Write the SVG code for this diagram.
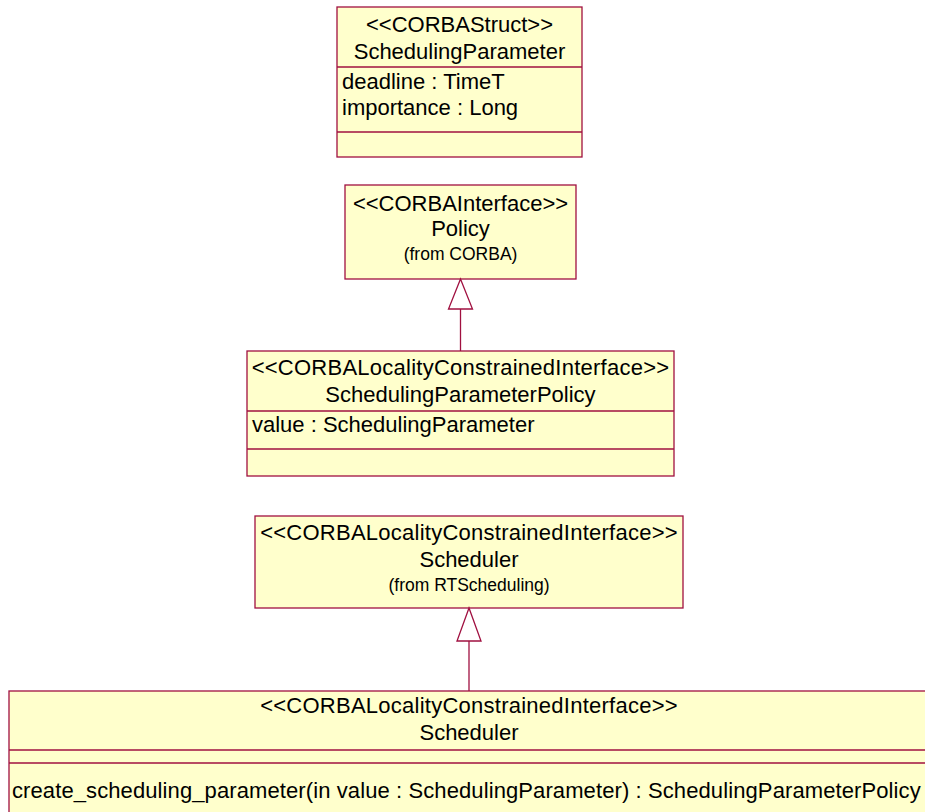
<svg xmlns="http://www.w3.org/2000/svg" width="925" height="812" viewBox="0 0 925 812">
<style>
.box{fill:#FFFFCC;stroke:#A01040;stroke-width:1.3}
.sep{stroke:#A01040;stroke-width:1.3;fill:none}
.conn{stroke:#A01040;stroke-width:1.3;fill:none}
.head{fill:#FFFFFF;stroke:#A01040;stroke-width:1.3}
text{font-family:"Liberation Sans",Arial,sans-serif;font-size:22px;fill:#000}
.c{text-anchor:middle}
.st{letter-spacing:0.25px}
.op{letter-spacing:0.1px}
.small{font-size:17.5px}
</style>
<rect width="925" height="812" fill="#FFFFFF"/>
<g id="SchedulingParameter">
<rect class="box" x="337" y="7" width="245" height="150"/>
<line class="sep" x1="337" y1="67" x2="582" y2="67"/>
<line class="sep" x1="337" y1="132" x2="582" y2="132"/>
<text class="c" x="459.5" y="32">&lt;&lt;CORBAStruct&gt;&gt;</text>
<text class="c" x="459.5" y="59">SchedulingParameter</text>
<text x="342" y="89">deadline : TimeT</text>
<text x="342" y="115">importance : Long</text>
</g>
<g id="Policy">
<rect class="box" x="345" y="185" width="231" height="94"/>
<text class="c" x="460.5" y="211">&lt;&lt;CORBAInterface&gt;&gt;</text>
<text class="c" x="460.5" y="236">Policy</text>
<text class="c small" x="460.5" y="260">(from CORBA)</text>
</g>
<g id="SchedulingParameterPolicy">
<rect class="box" x="247" y="351" width="427" height="125"/>
<line class="sep" x1="247" y1="411" x2="674" y2="411"/>
<line class="sep" x1="247" y1="449" x2="674" y2="449"/>
<text class="c st" x="460.5" y="375">&lt;&lt;CORBALocalityConstrainedInterface&gt;&gt;</text>
<text class="c" x="460.5" y="402">SchedulingParameterPolicy</text>
<text x="252" y="432">value : SchedulingParameter</text>
</g>
<g id="SchedulerBase">
<rect class="box" x="255" y="516" width="428" height="92"/>
<text class="c st" x="469" y="540">&lt;&lt;CORBALocalityConstrainedInterface&gt;&gt;</text>
<text class="c" x="469" y="567">Scheduler</text>
<text class="c small" x="469" y="591">(from RTScheduling)</text>
</g>
<g id="Scheduler">
<rect class="box" x="9" y="691" width="930" height="130"/>
<line class="sep" x1="9" y1="750" x2="939" y2="750"/>
<line class="sep" x1="9" y1="763" x2="939" y2="763"/>
<text class="c st" x="469" y="713">&lt;&lt;CORBALocalityConstrainedInterface&gt;&gt;</text>
<text class="c" x="469" y="740">Scheduler</text>
<text class="op" x="12" y="798">create_scheduling_parameter(in value : SchedulingParameter) : SchedulingParameterPolicy</text>
</g>
<g id="connectors">
<line class="conn" x1="460.5" y1="309" x2="460.5" y2="351"/>
<polygon class="head" points="460.5,279 448.5,309 472.5,309"/>
<line class="conn" x1="469" y1="641" x2="469" y2="691"/>
<polygon class="head" points="469,608 457,641 481,641"/>
</g>
</svg>
